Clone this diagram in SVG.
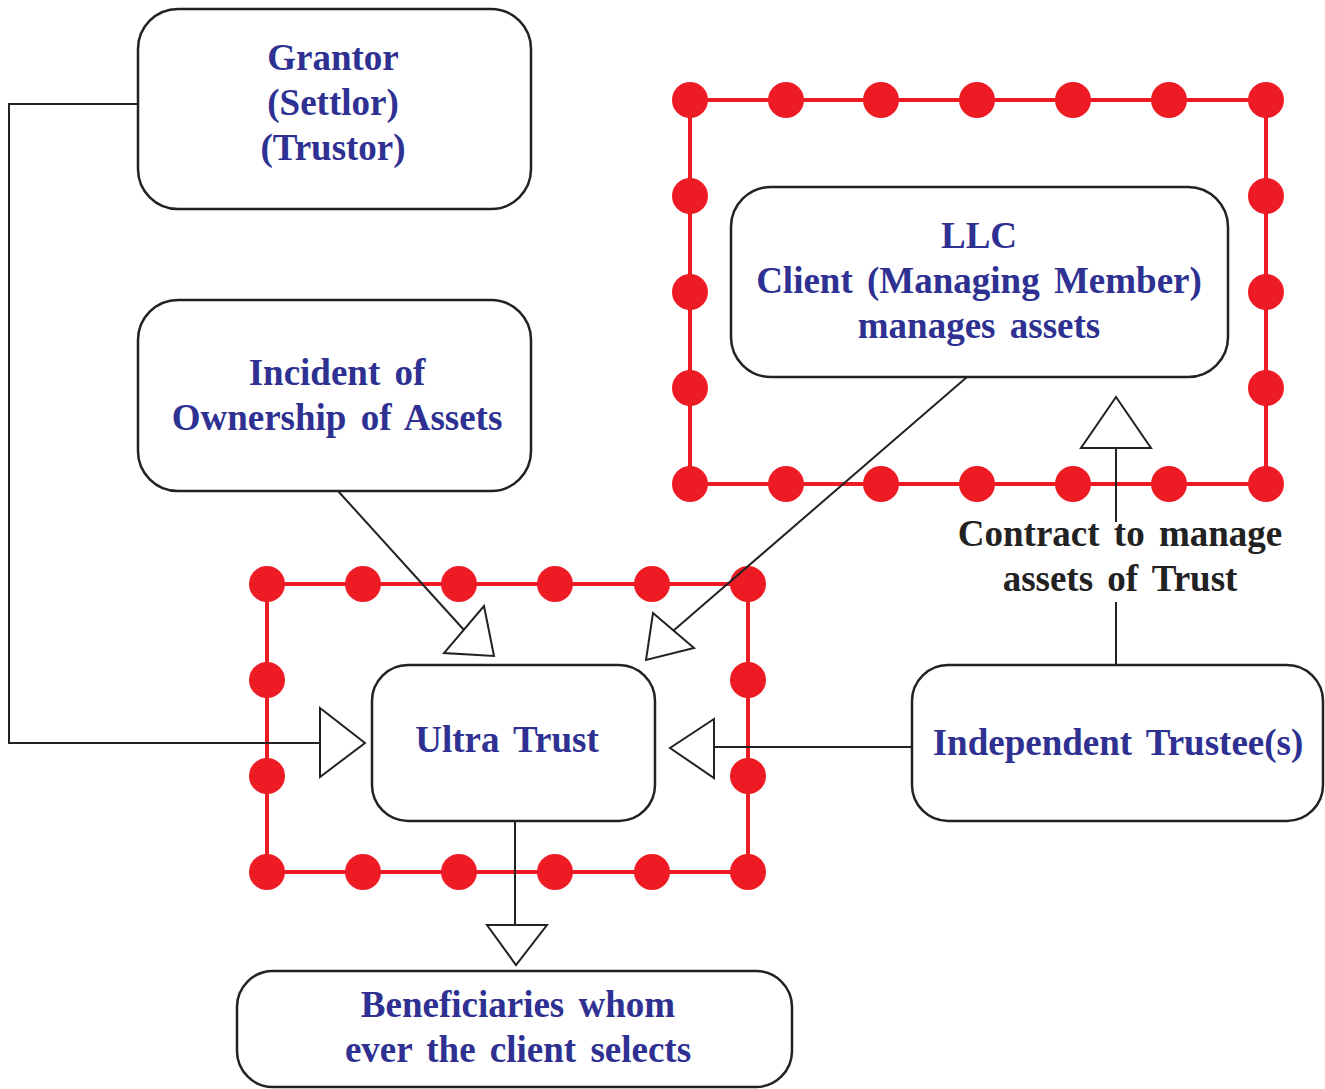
<svg xmlns="http://www.w3.org/2000/svg" width="1325" height="1089" viewBox="0 0 1325 1089">
<defs>
<style>
.frame{fill:none;stroke:#ed1c24;stroke-width:4}
.dot{fill:#ed1c24}
.box{fill:#fff;stroke:#222;stroke-width:2.5}
.con{fill:none;stroke:#222;stroke-width:2}
.head{fill:#fff;stroke:#222;stroke-width:2;stroke-linejoin:miter}
.t{font-family:"Liberation Serif","Times New Roman",serif;font-weight:bold;font-size:37px;fill:#2e3192;text-anchor:middle;word-spacing:5px}
.lbl{font-family:"Liberation Serif","Times New Roman",serif;font-weight:bold;font-size:37px;fill:#222;text-anchor:middle;word-spacing:5px}
</style>
</defs>
<rect width="1325" height="1089" fill="#fff"/>

<g id="frame-llc">
<rect class="frame" x="690" y="100" width="576" height="384"/>
<g class="dot">
<circle cx="690" cy="100" r="18"/><circle cx="786" cy="100" r="18"/><circle cx="881" cy="100" r="18"/><circle cx="977" cy="100" r="18"/><circle cx="1073" cy="100" r="18"/><circle cx="1169" cy="100" r="18"/><circle cx="1266" cy="100" r="18"/>
<circle cx="690" cy="484" r="18"/><circle cx="786" cy="484" r="18"/><circle cx="881" cy="484" r="18"/><circle cx="977" cy="484" r="18"/><circle cx="1073" cy="484" r="18"/><circle cx="1169" cy="484" r="18"/><circle cx="1266" cy="484" r="18"/>
<circle cx="690" cy="196" r="18"/><circle cx="690" cy="292" r="18"/><circle cx="690" cy="388" r="18"/>
<circle cx="1266" cy="196" r="18"/><circle cx="1266" cy="292" r="18"/><circle cx="1266" cy="388" r="18"/>
</g>
</g>

<g id="frame-trust">
<rect class="frame" x="267" y="584" width="481" height="288"/>
<g class="dot">
<circle cx="267" cy="584" r="18"/><circle cx="363" cy="584" r="18"/><circle cx="459" cy="584" r="18"/><circle cx="555" cy="584" r="18"/><circle cx="652" cy="584" r="18"/><circle cx="748" cy="584" r="18"/>
<circle cx="267" cy="872" r="18"/><circle cx="363" cy="872" r="18"/><circle cx="459" cy="872" r="18"/><circle cx="555" cy="872" r="18"/><circle cx="652" cy="872" r="18"/><circle cx="748" cy="872" r="18"/>
<circle cx="267" cy="680" r="18"/><circle cx="267" cy="776" r="18"/>
<circle cx="748" cy="680" r="18"/><circle cx="748" cy="776" r="18"/>
</g>
</g>

<g id="connectors">
<polyline class="con" points="138,104 9,104 9,743 320,743"/>
<polygon class="head" points="320,708 365,743 320,777"/>
<line class="con" x1="338" y1="491" x2="464" y2="630"/>
<polygon class="head" points="484,606 494,656 444,653"/>
<line class="con" x1="967" y1="377" x2="673" y2="631"/>
<polygon class="head" points="653,613 694,648 646,660"/>
<line class="con" x1="912" y1="747" x2="714" y2="747"/>
<polygon class="head" points="714,719 670,748 714,778"/>
<line class="con" x1="515" y1="821" x2="515" y2="925"/>
<polygon class="head" points="487,925 547,925 516,965"/>
<line class="con" x1="1116" y1="448" x2="1116" y2="522"/>
<line class="con" x1="1116" y1="602" x2="1116" y2="665"/>
<polygon class="head" points="1081,448 1151,448 1116,397"/>
</g>

<g id="grantor">
<rect class="box" x="138" y="9" width="393" height="200" rx="40"/>
<text class="t" x="333" y="70">Grantor</text>
<text class="t" x="333" y="115">(Settlor)</text>
<text class="t" x="333" y="160">(Trustor)</text>
</g>

<g id="incident">
<rect class="box" x="138" y="300" width="393" height="191" rx="40"/>
<text class="t" x="337" y="385">Incident of</text>
<text class="t" x="337" y="430">Ownership of Assets</text>
</g>

<g id="llc">
<rect class="box" x="731" y="187" width="497" height="190" rx="40"/>
<text class="t" x="979" y="248">LLC</text>
<text class="t" x="979" y="293">Client (Managing Member)</text>
<text class="t" x="979" y="338">manages assets</text>
</g>

<g id="ultra-trust">
<rect class="box" x="372" y="665" width="283" height="156" rx="36"/>
<text class="t" x="507" y="752">Ultra Trust</text>
</g>

<g id="independent-trustee">
<rect class="box" x="912" y="665" width="411" height="156" rx="36"/>
<text class="t" x="1118" y="755">Independent Trustee(s)</text>
</g>

<g id="beneficiaries">
<rect class="box" x="237" y="971" width="555" height="116" rx="36"/>
<text class="t" x="518" y="1017">Beneficiaries whom</text>
<text class="t" x="518" y="1062">ever the client selects</text>
</g>

<g id="contract-label">
<text class="lbl" x="1120" y="546">Contract to manage</text>
<text class="lbl" x="1120" y="591">assets of Trust</text>
</g>
</svg>
